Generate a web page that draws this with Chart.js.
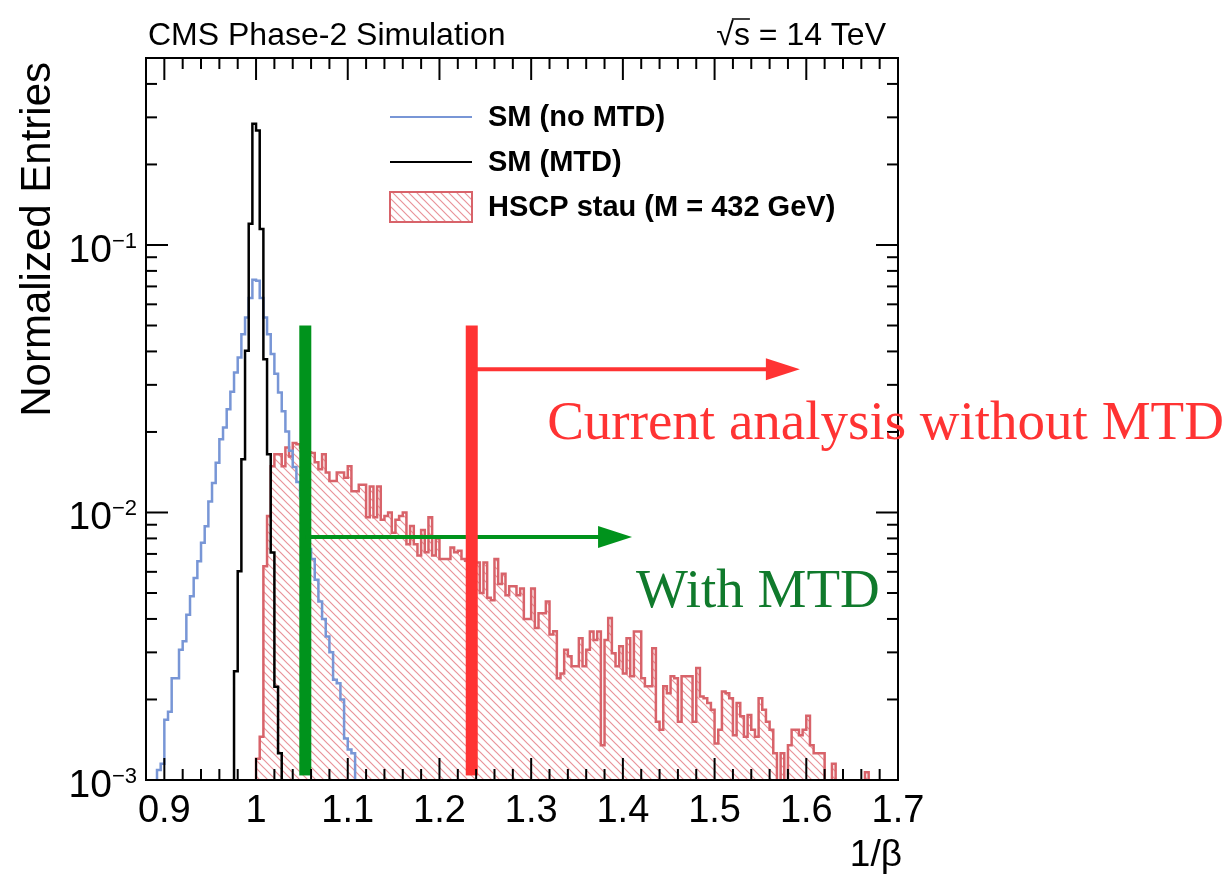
<!DOCTYPE html>
<html>
<head>
<meta charset="utf-8">
<title>1/beta</title>
<script src="https://cdn.jsdelivr.net/npm/chart.js@4.4.1/dist/chart.umd.min.js"></script>
<style>
body { margin: 0; background: #fff; }
</style>
</head>
<body>
<canvas id="myChart" width="1227" height="881"></canvas>
<script>
// histogram binning (1/beta), all three samples share the same bin width
var binWidth = 0.004;

// axis ticks
var xTicks = [0.9, 1.0, 1.1, 1.2, 1.3, 1.4, 1.5, 1.6, 1.7];
var xTickLabels = ["0.9", "1", "1.1", "1.2", "1.3", "1.4", "1.5", "1.6", "1.7"];
var yTicks = [0.001, 0.01, 0.1];
var yTickExp = ["\u22123", "\u22122", "\u22121"];

// SM (no MTD), first bin starts at 0.892
var smNoMtdStart = 0.892;
var smNoMtd = [
  0.00109, 0.00115, 0.00168, 0.0018, 0.0024, 0.0024, 0.00307, 0.0033,
  0.00415, 0.00486, 0.00569, 0.00657, 0.0077, 0.00889, 0.011, 0.0129,
  0.01535, 0.0188, 0.0208, 0.0243, 0.0283, 0.0334, 0.038, 0.0464,
  0.0536, 0.0633, 0.0741, 0.0735, 0.0633, 0.0536, 0.0464, 0.0391,
  0.033, 0.0281, 0.0239, 0.0201, 0.017, 0.0148, 0.013, 0.0115,
  0.01, 0.0073, 0.0067, 0.0056, 0.00465, 0.004, 0.00344, 0.003,
  0.00237, 0.0023, 0.002, 0.00143, 0.0013, 0.00126
];

// SM (MTD), first bin starts at 0.976
var smMtdStart = 0.976;
var smMtd = [
  0.00255, 0.00603, 0.0158, 0.0402, 0.12, 0.284, 0.268, 0.1148,
  0.0374, 0.0165, 0.00708, 0.00223, 0.00126
];

// HSCP stau (M = 432 GeV), first bin starts at 1.000
var hscpStart = 1.0;
var hscp = [
  0.0012, 0.00145, 0.0063, 0.0097, 0.0149, 0.0165, 0.0165, 0.0149,
  0.0175, 0.0162, 0.0182, 0.018, 0.0175, 0.017, 0.0168, 0.0167,
  0.0154, 0.0145, 0.0165, 0.0141, 0.0131, 0.0131, 0.0141, 0.0141,
  0.0135, 0.0149, 0.012, 0.012, 0.0127, 0.0127, 0.0096, 0.0125,
  0.0096, 0.0125, 0.0094, 0.0097, 0.01, 0.0084, 0.0094, 0.0097,
  0.01, 0.0076, 0.0089, 0.0076, 0.0069, 0.0086, 0.0071, 0.0096,
  0.0069, 0.008, 0.0067, 0.0067, 0.0067, 0.0074, 0.0071, 0.0072,
  0.0067, 0.0066, 0.0066, 0.0064, 0.0065, 0.005, 0.0065, 0.0048,
  0.0047, 0.0067, 0.0054, 0.0059, 0.0049, 0.0053, 0.0053, 0.0049,
  0.0052, 0.004, 0.004, 0.0052, 0.0037, 0.0042, 0.0042, 0.00465,
  0.0035, 0.0036, 0.0024, 0.0025, 0.00307, 0.0029, 0.00266, 0.00266,
  0.00339, 0.00266, 0.00307, 0.00359, 0.00334, 0.00359, 0.00135, 0.00334,
  0.00403, 0.00298, 0.00266, 0.00316, 0.0025, 0.00339, 0.00244, 0.00359,
  0.00359, 0.0024, 0.00224, 0.00224, 0.00311, 0.00165, 0.00154, 0.00224,
  0.00211, 0.00244, 0.0024, 0.00165, 0.00244, 0.00244, 0.00244, 0.00165,
  0.00262, 0.00205, 0.00202, 0.00194, 0.00183, 0.00137, 0.00154, 0.00214,
  0.00211, 0.00202, 0.00147, 0.00194, 0.00173, 0.00145, 0.00175, 0.00154,
  0.00145, 0.00202, 0.00183, 0.00165, 0.00154, 0.00126, 0, 0.00126,
  0, 0.00135, 0.00154, 0.00154, 0.00147, 0.00154, 0.00174, 0.00135,
  0.00126, 0.00126, 0.00126, 0, 0, 0.00115, 0, 0,
  0, 0, 0, 0, 0, 0, 0.00107
];

// cut annotations: 1/beta threshold, arrow height and arrow end
var cutNames = ["With MTD", "Current analysis without MTD"];
var cutValues = [1.0537, 1.2352];
var cutArrowY = [0.0081, 0.0343];
var cutArrowEnd = [1.41, 1.593];
var cutLabelX = [1.4144, 1.3174];
var cutLabelY = [0.00445, 0.01877];
var cutTop = 0.05;
var cutBottom = 0.00104;

var blue = "#7896d6";
var red = "#d8636a";
var sans = '"Liberation Sans", Arial, Helvetica, sans-serif';

var floorValue = 1e-5;

function histPoints(start, values) {
  var pts = [{ x: start, y: floorValue }];
  values.forEach(function(v, i) {
    var lo = start + i * binWidth;
    var y = v > 0 ? v : floorValue;
    pts.push({ x: lo, y: y });
    pts.push({ x: lo + binWidth, y: y });
  });
  pts.push({ x: start + values.length * binWidth, y: floorValue });
  return pts;
}

function makeHatch(color) {
  var c = document.createElement("canvas");
  c.width = 8;
  c.height = 8;
  var g = c.getContext("2d");
  g.strokeStyle = color;
  g.lineWidth = 1.2;
  g.beginPath();
  g.moveTo(-2, -2); g.lineTo(10, 10);
  g.moveTo(-2, 6); g.lineTo(2, 10);
  g.moveTo(6, -2); g.lineTo(10, 2);
  g.stroke();
  return g.createPattern(c, "repeat");
}

var hatch = makeHatch("#e9949a");

function line(ctx, x1, y1, x2, y2) {
  ctx.beginPath();
  ctx.moveTo(x1, y1);
  ctx.lineTo(x2, y2);
  ctx.stroke();
}

// ROOT-like frame, inward ticks, labels, legend and cut annotations
var rootStyle = {
  id: "rootStyle",
  afterDatasetsDraw: function(chart) {
    var ctx = chart.ctx, x = chart.scales.x, y = chart.scales.y;
    ctx.save();
    cutValues.forEach(function(c, i) {
      var col = i == 0 ? "#00931c" : "#ff3333";
      var px = x.getPixelForValue(c);
      var top = y.getPixelForValue(cutTop), bot = y.getPixelForValue(cutBottom);
      ctx.fillStyle = col;
      ctx.fillRect(px - 6, top, 12, bot - top);
      var ay = y.getPixelForValue(cutArrowY[i]);
      var tip = x.getPixelForValue(cutArrowEnd[i]);
      ctx.strokeStyle = col;
      ctx.lineWidth = 4;
      line(ctx, px, ay, tip - 30, ay);
      ctx.beginPath();
      ctx.moveTo(tip, ay);
      ctx.lineTo(tip - 34, ay - 11);
      ctx.lineTo(tip - 34, ay + 11);
      ctx.closePath();
      ctx.fill();
    });
    ctx.restore();
  },
  afterDraw: function(chart) {
    var ctx = chart.ctx, a = chart.chartArea, x = chart.scales.x, y = chart.scales.y;
    ctx.save();
    ctx.strokeStyle = "#000";
    ctx.lineWidth = 2;
    ctx.strokeRect(a.left, a.top, a.right - a.left, a.bottom - a.top);

    // x ticks, bottom and top
    for (var v = 0.88; v < 1.7005; v += 0.02) {
      var px = x.getPixelForValue(v);
      var major = xTicks.some(function(t) { return Math.abs(t - v) < 1e-6; });
      var len = major ? 22 : 11;
      line(ctx, px, a.bottom, px, a.bottom - len);
      line(ctx, px, a.top, px, a.top + len);
    }
    // y ticks, left and right
    for (var e = -3; e <= -1; e++) {
      for (var k = 1; k <= 9; k++) {
        var val = k * Math.pow(10, e);
        if (val > 0.5 + 1e-9) continue;
        var py = y.getPixelForValue(val);
        var len2 = k == 1 ? 22 : 11;
        line(ctx, a.left, py, a.left + len2, py);
        line(ctx, a.right, py, a.right - len2, py);
      }
    }

    ctx.fillStyle = "#000";
    // x tick labels
    ctx.font = "38px " + sans;
    ctx.textAlign = "center";
    ctx.textBaseline = "alphabetic";
    xTicks.forEach(function(t, i) {
      ctx.fillText(xTickLabels[i], x.getPixelForValue(t), 822);
    });
    // y tick labels 10^n
    yTicks.forEach(function(t, i) {
      var py = y.getPixelForValue(t);
      ctx.font = "22px " + sans;
      var sw = ctx.measureText(yTickExp[i]).width;
      var right = 137;
      ctx.textAlign = "left";
      ctx.fillText(yTickExp[i], right - sw, py + 3);
      ctx.font = "39px " + sans;
      ctx.textAlign = "right";
      ctx.fillText("10", right - sw, py + 17);
    });

    // axis titles
    ctx.font = "37px " + sans;
    ctx.textAlign = "right";
    ctx.fillText("1/\u03b2", a.right + 4, 866);
    ctx.save();
    ctx.translate(50, 62);
    ctx.rotate(-Math.PI / 2);
    ctx.font = "42px " + sans;
    ctx.fillText("Normalized Entries", 0, 0);
    ctx.restore();

    // header
    ctx.font = "32px " + sans;
    ctx.textAlign = "left";
    ctx.fillText("CMS Phase-2 Simulation", 148, 45);
    var energy = "\u221as = 14 TeV";
    var ex = 886 - ctx.measureText(energy).width;
    ctx.fillText(energy, ex, 45);
    var rw = ctx.measureText("\u221a").width, sw2 = ctx.measureText("s").width;
    ctx.lineWidth = 1.5;
    line(ctx, ex + rw - 2, 19, ex + rw + sw2, 19);

    // legend
    ctx.font = "bold 29px " + sans;
    ctx.textAlign = "left";
    ctx.textBaseline = "middle";
    var lx = 390, lw = 82, tx = 488;
    var rows = [117, 162, 207];
    var names = chart.data.datasets.map(function(d) { return d.label; });
    ctx.lineWidth = 2;
    ctx.strokeStyle = blue;
    line(ctx, lx, rows[0], lx + lw, rows[0]);
    ctx.strokeStyle = "#000";
    line(ctx, lx, rows[1], lx + lw, rows[1]);
    ctx.fillStyle = hatch;
    ctx.fillRect(lx, rows[2] - 15, lw, 30);
    ctx.strokeStyle = red;
    ctx.strokeRect(lx, rows[2] - 15, lw, 30);
    ctx.fillStyle = "#000";
    names.forEach(function(n, i) { ctx.fillText(n, tx, rows[i] + 1); });

    // cut labels
    ctx.textBaseline = "alphabetic";
    ctx.font = '55px "Liberation Serif", "Times New Roman", serif';
    cutNames.forEach(function(n, i) {
      ctx.fillStyle = i == 0 ? "#107a2c" : "#ff3333";
      ctx.fillText(n, x.getPixelForValue(cutLabelX[i]), y.getPixelForValue(cutLabelY[i]));
    });
    ctx.restore();
  }
};

new Chart("myChart", {
  type: "line",
  data: {
    datasets: [
      {
        label: "SM (no MTD)",
        data: histPoints(smNoMtdStart, smNoMtd),
        borderColor: blue,
        borderWidth: 2.5,
        pointRadius: 0,
        fill: false,
        clip: 0,
        order: 2
      },
      {
        label: "SM (MTD)",
        data: histPoints(smMtdStart, smMtd),
        borderColor: "#000",
        borderWidth: 2.5,
        pointRadius: 0,
        fill: false,
        clip: 0,
        order: 1
      },
      {
        label: "HSCP stau (M = 432 GeV)",
        data: histPoints(hscpStart, hscp),
        borderColor: red,
        backgroundColor: hatch,
        borderWidth: 2.5,
        pointRadius: 0,
        fill: "start",
        clip: 0,
        order: 3
      }
    ]
  },
  options: {
    responsive: false,
    animation: false,
    devicePixelRatio: 1,
    layout: { padding: { left: 0, top: 58, right: 329, bottom: 0 } },
    elements: { line: { tension: 0 } },
    plugins: { legend: { display: false }, tooltip: { enabled: false } },
    scales: {
      x: {
        type: "linear", min: 0.88, max: 1.7,
        ticks: { display: false }, grid: { display: false }, border: { display: false },
        afterFit: function(s) { s.height = 101; }
      },
      y: {
        type: "logarithmic", min: 0.001, max: 0.5,
        ticks: { display: false }, grid: { display: false }, border: { display: false },
        afterFit: function(s) { s.width = 146; }
      }
    }
  },
  plugins: [rootStyle]
});
</script>
</body>
</html>
